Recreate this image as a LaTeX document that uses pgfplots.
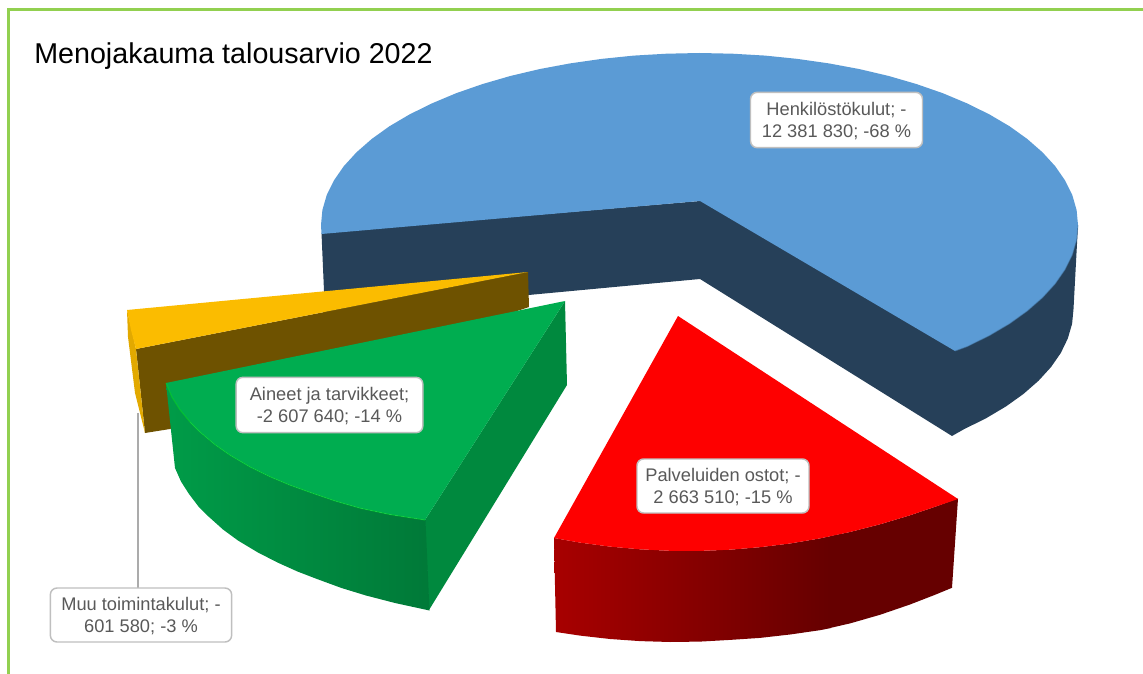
\documentclass[border=0pt]{standalone}
\usepackage{fontspec}
\setmainfont{Liberation Sans}
\usepackage{pgfplots}
\pgfplotsset{compat=1.18}
\definecolor{fr}{HTML}{92D050}
\definecolor{bl}{HTML}{5B9BD5}
\definecolor{nv}{HTML}{264059}
\definecolor{yl}{HTML}{FBBC00}
\definecolor{gd}{HTML}{E2A900}
\definecolor{br}{HTML}{6E5200}
\definecolor{gn}{HTML}{00AD50}
\definecolor{gr}{HTML}{00893E}
\definecolor{rd}{HTML}{FE0000}
\definecolor{tx}{HTML}{595959}
\tikzset{lab/.style={draw=black!25,line width=1.1pt,fill=white,rounded corners=5pt,align=center,text=tx,font=\fontsize{13.7}{16.4}\selectfont,inner sep=0pt,text depth=0pt}}
\begin{document}
\begin{tikzpicture}
\begin{axis}[scale only axis,width=857.25pt,height=505.5pt,xmin=0,xmax=1143,ymin=0,ymax=674,y dir=reverse,axis lines=none,clip=false]
\path[use as bounding box] (axis cs:0,0) rectangle (axis cs:1143,674);
% frame
\addplot[draw=fr,line width=1.8pt] coordinates {(8.5,674)(8.5,9.5)(1143,9.5)};
% Henkilostokulut
\addplot[fill=nv,draw=none] coordinates {(321.5,233)(700,201)(1078,225)(1073.5,309)(1072.1,323.8)(1067.8,338.5)(1060.8,353)(1051,367.1)(1038.5,380.8)(1023.4,394)(1005.9,406.5)(986,418.3)(964,429.2)(952,436)(700,279)(325,314)} -- cycle;
\addplot[fill=bl,draw=none] coordinates {(700,201)(955,351)(967.1,346.6)(989.4,335.6)(1009.6,323.7)(1027.3,311)(1042.5,297.7)(1055.2,283.8)(1065.1,269.5)(1072.3,254.9)(1076.6,240)(1078,225)(1076.6,210)(1072.3,195.1)(1065.1,180.5)(1055.2,166.2)(1042.5,152.3)(1027.3,139)(1009.6,126.3)(989.4,114.4)(967.1,103.4)(942.8,93.2)(916.6,84.1)(888.8,76)(859.5,69.1)(828.9,63.4)(797.5,58.9)(765.2,55.6)(732.5,53.7)(699.5,53)(666.5,53.7)(633.8,55.6)(601.5,58.9)(570.1,63.4)(539.5,69.1)(510.3,76)(482.4,84.1)(456.2,93.2)(431.9,103.4)(409.6,114.4)(389.4,126.3)(371.7,139)(356.5,152.3)(343.8,166.2)(333.9,180.5)(326.7,195.1)(322.4,210)(321,225)(321.5,234)} -- cycle;
\addplot[draw=bl!75!black,line width=0.7pt,opacity=0.5] coordinates {(955,351)(967.1,346.6)(989.4,335.6)(1009.6,323.7)(1027.3,311)(1042.5,297.7)(1055.2,283.8)(1065.1,269.5)(1072.3,254.9)(1076.6,240)(1078,225)};
% Muu toimintakulut
\addplot[fill=br,draw=none] coordinates {(136,349)(528,272)(529,307)(170,429)(145,433)} -- cycle;
\addplot[fill=gd,draw=none] coordinates {(127,310)(136,349)(145,433)(135,393)(128,337)} -- cycle;
\addplot[fill=yl,draw=none] coordinates {(127,310)(528,272)(136,349)(131,330)} -- cycle;
\addplot[draw=black!33,line width=0.9pt] coordinates {(138,413)(138,588)};
% Aineet ja tarvikkeet
\addplot[fill=gr,draw=none] coordinates {(565,301)(567,385)(429,610)(425,520)} -- cycle;
\addplot[draw=none,left color=gn!90!black,right color=gn!70!black] coordinates {(166,383)(172,397.2)(180,409.8)(190,422)(200,432)(215,444.6)(230,455.1)(250,466.9)(270,476.7)(290,485.1)(310,492.3)(335,500.9)(360,508.1)(390,514.5)(425.5,520)(429.5,610.5)(395,603)(366,595.5)(341.5,588)(317,579)(297.5,571.5)(277.5,562.5)(258,552.5)(238,540.5)(223,529.5)(208.5,516.5)(198.5,506.5)(189,494)(181,481.5)(175,468)} -- cycle;
\addplot[fill=gn,draw=none] coordinates {(565,301)(425,520)(390,514.5)(360,508.1)(335,500.9)(310,492.3)(290,485.1)(270,476.7)(250,466.9)(230,455.1)(215,444.6)(200,432)(190,422)(180,409.8)(172,397.2)(166,383)} -- cycle;
\addplot[draw=green!60!gn,line width=0.8pt,opacity=0.5] coordinates {(166,383)(172,397.2)(180,409.8)(190,422)(200,432)(215,444.6)(230,455.1)(250,466.9)(270,476.7)(290,485.1)(310,492.3)(335,500.9)(360,508.1)(390,514.5)(425,520)};
% Palveluiden ostot
\addplot[draw=none,left color=rd!66!black,right color=rd!40!black] coordinates {(554,538)(580,542.6)(610,546.6)(640,549.3)(670,550.8)(700,550.9)(730,549.7)(760,547.2)(790,543.5)(820,538.4)(831,536)(831,628)(820,630.2)(790,634.5)(760,637.9)(730,639.9)(700,641.6)(670,642)(640,641.1)(610,639)(580,635.6)(556,632)} -- cycle;
\addplot[fill=rd!40!black,draw=none] coordinates {(830,536)(850,532)(880,524.3)(910,515.3)(935,506.8)(958,498.5)(952,587.8)(935,594.8)(910,604.5)(880,614.8)(850,623.4)(830,628)} -- cycle;
\addplot[fill=rd,draw=none] coordinates {(678,316)(958,499)(935,506.8)(910,515.3)(880,524.3)(850,532)(820,538.4)(790,543.5)(760,547.2)(730,549.7)(700,550.9)(670,550.8)(640,549.3)(610,546.6)(580,542.6)(554,538)} -- cycle;
% labels
\node[font=\fontsize{21.5}{26}\selectfont,anchor=base west,inner sep=0pt] at (axis cs:34,64) {Menojakauma talousarvio 2022};
\node[lab,minimum width=129pt,minimum height=41.5pt] at (axis cs:836.5,120) {Henkilöstökulut; -\\12 381 830; -68 \%};
\node[lab,minimum width=140pt,minimum height=41.5pt] at (axis cs:329.5,405) {Aineet ja tarvikkeet;\\-2 607 640; -14 \%};
\node[lab,minimum width=129pt,minimum height=40.5pt] at (axis cs:723,486) {Palveluiden ostot; -\\2 663 510; -15 \%};
\node[lab,minimum width=136pt,minimum height=40.5pt] at (axis cs:141,615) {Muu toimintakulut; -\\601 580; -3 \%};
\end{axis}
\end{tikzpicture}
\end{document}
